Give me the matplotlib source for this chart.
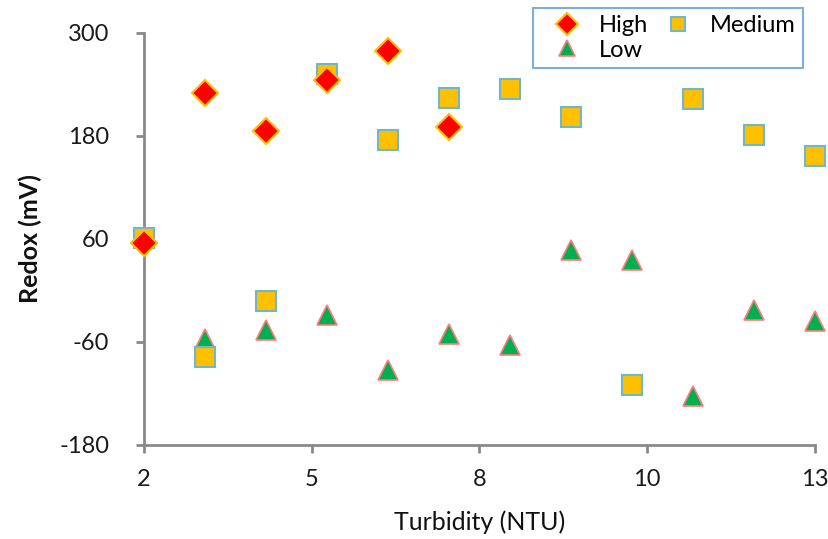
import matplotlib.pyplot as plt

# turbidity (NTU) and redox (mV) per group
x_high = [2, 3, 4, 5, 6, 7]
y_high = [55, 230, 186, 245, 279, 190]

x_med = [2, 3, 4, 5, 6, 7, 8, 9, 10, 11, 12, 13]
y_med = [61, -78, -12, 252, 175, 224, 235, 202, -110, 223, 181, 157]

x_low = [2, 3, 4, 5, 6, 7, 8, 9, 10, 11, 12, 13]
y_low = [62, -57, -46, -29, -93, -51, -64, 47, 35, -123, -23, -36]

x_ticks = [2, 4.75, 7.5, 10.25, 13]
x_labels = ["2", "5", "8", "10", "13"]
y_ticks = [-180, -60, 60, 180, 300]

plt.rcParams['font.family'] = ['Lato', 'DejaVu Sans']
plt.rcParams['axes.unicode_minus'] = False

fig = plt.figure(figsize=(8.29, 5.39), dpi=100)
ax = fig.add_axes([0.1737, 0.1744, 0.8093, 0.7644])

ax.plot(x_low, y_low, ls="none", marker="^", ms=14, mfc="#00B050",
        mec="#FF7C80", mew=1.2, label="Low", zorder=3, clip_on=False)
ax.plot(x_med, y_med, ls="none", marker="s", ms=14, mfc="#FFC000",
        mec="#6FB7C9", mew=1.5, label="Medium", zorder=4, clip_on=False)
ax.plot(x_high, y_high, ls="none", marker="D", ms=13, mfc="#FF0000",
        mec="#FFC000", mew=1.5, label="High", zorder=5, clip_on=False)

ax.set_xlim(2, 13)
ax.set_ylim(-180, 300)
ax.set_xticks(x_ticks, x_labels)
ax.set_yticks(y_ticks)

for s in ("top", "right"):
    ax.spines[s].set_visible(False)
for s in ("left", "bottom"):
    ax.spines[s].set_color("#898989")
    ax.spines[s].set_linewidth(2)
ax.tick_params(colors="#898989", width=2, length=6, direction="out",
               labelsize=17, labelcolor="#1a1a1a")
ax.tick_params(axis="x", pad=11)
ax.tick_params(axis="y", pad=19)

ax.set_xlabel("Turbidity (NTU)", fontsize=18, color="#111111")
ax.set_ylabel("Redox (mV)", fontsize=18, fontweight="bold", color="#111111")
ax.xaxis.set_label_coords(0.5, -0.158)
ax.yaxis.set_label_coords(-0.152, 0.5)

h, l = ax.get_legend_handles_labels()
order = [2, 0, 1]
leg = fig.legend([h[i] for i in order], [l[i] for i in order], ncol=2,
                 loc="upper left", bbox_to_anchor=(0.643, 0.985),
                 fontsize=17, frameon=True, fancybox=False,
                 borderpad=0.3, handletextpad=0.2, columnspacing=0.1,
                 labelspacing=0.15, handlelength=2.3, borderaxespad=0)
leg.get_frame().set_edgecolor("#5B9BD5")
leg.get_frame().set_linewidth(1.5)
for lh, ms in zip(leg.legend_handles, [11, 12, 10]):
    lh.set_markersize(ms)

fig.savefig("out.png", dpi=100)
